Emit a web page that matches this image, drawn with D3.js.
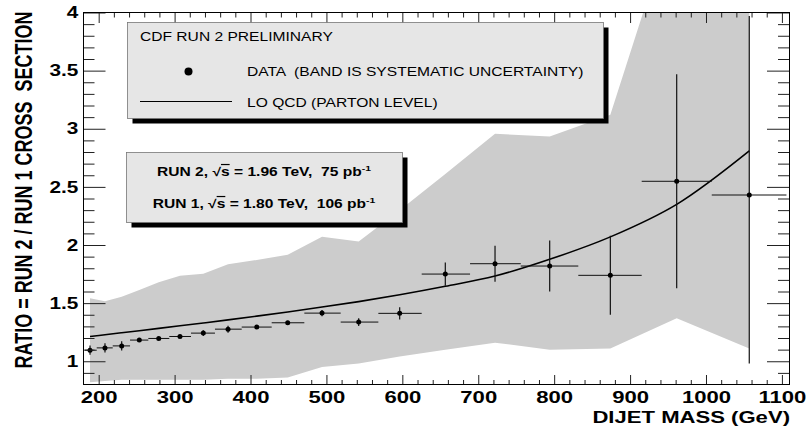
<!DOCTYPE html>
<html>
<head>
<meta charset="utf-8">
<script src="https://cdn.jsdelivr.net/npm/d3@7"></script>
<style>
  html, body { margin: 0; padding: 0; background: #fff; }
  svg { display: block; font-family: "Liberation Sans", Arial, Helvetica, sans-serif; }
  svg text { white-space: pre; }
</style>
</head>
<body>
<div id="chart"></div>
<script>
// dijet mass of each point (GeV) and bin edges
const mass = [188.6, 208.3, 230.3, 253.5, 279.1, 307.1, 337.8, 370.4, 408.2, 449.0,
  494.2, 542.5, 596.5, 656.6, 722.1, 794.1, 874.0, 961.4, 1057.0]
const binEdges = [182, 197.4, 218.5, 241.3, 265.4, 293, 321.6, 353.2, 388.4, 427.9,
  470.9, 518.8, 568.4, 625.5, 689.2, 756, 831.8, 915.3, 1007.6, 1106]
// measured ratio run2/run1 and its statistical error
const ratio = [1.095, 1.115, 1.132, 1.182, 1.196, 1.213, 1.242, 1.276, 1.294, 1.331,
  1.414, 1.337, 1.412, 1.75, 1.839, 1.819, 1.739, 2.548, 2.43]
const errLow = [0.04, 0.04, 0.04, 0.012, 0.012, 0.012, 0.025, 0.03, 0.012, 0.012,
  0.027, 0.033, 0.052, 0.1, 0.155, 0.22, 0.34, 0.92, 1.45]
const errHigh = [0.04, 0.04, 0.04, 0.012, 0.012, 0.012, 0.025, 0.03, 0.012, 0.012,
  0.027, 0.033, 0.052, 0.1, 0.155, 0.22, 0.34, 0.92, 1.54]
// systematic band
const bandLow = [0.82, 0.83, 0.84, 0.84, 0.84, 0.84, 0.84, 0.85, 0.85, 0.86,
  0.95, 0.98, 1.04, 1.10, 1.16, 1.10, 1.11, 1.37, 1.11]
const bandHigh = [1.541, 1.517, 1.555, 1.612, 1.679, 1.735, 1.753, 1.834, 1.871, 1.916,
  2.07, 2.03, 2.30, 2.61, 2.956, 2.933, 3.12, 4.9, 5.0]
// LO QCD prediction
const theory = [1.213, 1.228, 1.245, 1.263, 1.283, 1.305, 1.329, 1.356, 1.388, 1.424,
  1.466, 1.513, 1.572, 1.645, 1.733, 1.877, 2.07, 2.35, 2.81]

const xMajor = d3.range(200, 1101, 100)
const xMinor = d3.range(200, 1101, 20).filter(v => v % 100 !== 0)
const yMajor = [1, 1.5, 2, 2.5, 3, 3.5, 4]
const yMinor = d3.range(9, 40).map(v => v / 10).filter(v => (v * 10) % 5 !== 0)

const width = 809, height = 427
const x = d3.scaleLinear().domain([180, 1110]).range([83.5, 789.5])
const y = d3.scaleLinear().domain([0.8, 4]).range([384.5, 12.5])
const sx = 1.3 // picture is stretched sideways, text too
const font = '"Liberation Sans", Arial, Helvetica, sans-serif'
const I = d3.range(mass.length)

const svg = d3.select("#chart").append("svg")
  .attr("width", width).attr("height", height)
  .attr("viewBox", [0, 0, width, height])

svg.append("clipPath").attr("id", "frame").append("rect")
  .attr("x", x.range()[0]).attr("y", y.range()[1])
  .attr("width", x.range()[1] - x.range()[0])
  .attr("height", y.range()[0] - y.range()[1])

// band
svg.append("path")
  .datum(I)
  .attr("clip-path", "url(#frame)")
  .attr("fill", "#cccccc")
  .attr("d", d3.area()
    .x(i => x(mass[i]))
    .y0(i => y(bandLow[i]))
    .y1(i => y(bandHigh[i])))

// theory curve
svg.append("path")
  .datum(I)
  .attr("fill", "none")
  .attr("stroke", "#000")
  .attr("stroke-width", 1.6)
  .attr("d", d3.line().curve(d3.curveCatmullRom)
    .x(i => x(mass[i]))
    .y(i => y(theory[i])))

// data with error bars
const pts = svg.append("g").attr("clip-path", "url(#frame)")
pts.selectAll(".xerr").data(I).join("line")
  .attr("class", "xerr")
  .attr("stroke", "#111").attr("stroke-width", 1)
  .attr("x1", i => x(binEdges[i])).attr("x2", i => x(binEdges[i + 1]))
  .attr("y1", i => y(ratio[i])).attr("y2", i => y(ratio[i]))
pts.selectAll(".yerr").data(I).join("line")
  .attr("class", "yerr")
  .attr("stroke", "#111").attr("stroke-width", 1.2)
  .attr("x1", i => x(mass[i])).attr("x2", i => x(mass[i]))
  .attr("y1", i => y(ratio[i] - errLow[i])).attr("y2", i => y(ratio[i] + errHigh[i]))
pts.selectAll("circle").data(I).join("circle")
  .attr("cx", i => x(mass[i])).attr("cy", i => y(ratio[i]))
  .attr("r", 2.5).attr("fill", "#000")

// axes
function clean(g) {
  g.select(".domain").remove()
  g.selectAll(".tick line").attr("stroke", "#222")
}
const yBot = y.range()[0], yTop = y.range()[1]
const xLeft = x.range()[0], xRight = x.range()[1]

svg.append("g").attr("transform", `translate(0,${yBot})`)
  .call(d3.axisBottom(x).tickValues(xMinor).tickSize(-4.5).tickFormat(""))
  .call(clean)
svg.append("g").attr("transform", `translate(0,${yBot})`)
  .call(d3.axisBottom(x).tickValues(xMajor).tickSize(-9.5).tickPadding(6).tickFormat(d3.format("d")))
  .call(clean)
  .call(g => g.selectAll(".tick text")
    .attr("transform", `scale(${sx},1)`)
    .attr("font-size", 17).attr("font-weight", "bold")
    .attr("font-family", font).attr("fill", "#000"))
svg.append("g").attr("transform", `translate(0,${yTop})`)
  .call(d3.axisTop(x).tickValues(xMinor).tickSize(-5).tickFormat(""))
  .call(clean)
svg.append("g").attr("transform", `translate(0,${yTop})`)
  .call(d3.axisTop(x).tickValues(xMajor).tickSize(-10.5).tickFormat(""))
  .call(clean)

svg.append("g").attr("transform", `translate(${xLeft},0)`)
  .call(d3.axisLeft(y).tickValues(yMinor).tickSize(-11).tickFormat(""))
  .call(clean)
svg.append("g").attr("transform", `translate(${xLeft},0)`)
  .call(d3.axisLeft(y).tickValues(yMajor).tickSize(-22).tickPadding(4)
    .tickFormat(d => d3.format("~g")(d)))
  .call(clean)
  .call(g => g.selectAll(".tick text")
    .attr("transform", `scale(${sx},1)`)
    .attr("font-size", 16).attr("font-weight", "bold")
    .attr("font-family", font).attr("fill", "#000"))
svg.append("g").attr("transform", `translate(${xRight},0)`)
  .call(d3.axisRight(y).tickValues(yMinor).tickSize(-11.5).tickFormat(""))
  .call(clean)
svg.append("g").attr("transform", `translate(${xRight},0)`)
  .call(d3.axisRight(y).tickValues(yMajor).tickSize(-22.5).tickFormat(""))
  .call(clean)

// frame
svg.append("rect")
  .attr("x", xLeft).attr("y", yTop)
  .attr("width", xRight - xLeft).attr("height", yBot - yTop)
  .attr("fill", "none").attr("stroke", "#000").attr("stroke-width", 1)

// axis titles
svg.append("text")
  .attr("transform", `translate(790,423) scale(${sx},1)`)
  .attr("text-anchor", "end")
  .attr("font-size", 17).attr("font-weight", "bold")
  .text("DIJET MASS (GeV)")
svg.append("text")
  .attr("transform", `translate(24,190) scale(${sx},1) rotate(-90)`)
  .attr("text-anchor", "middle").attr("dy", "0.36em")
  .attr("font-size", 18).attr("font-weight", "bold")
  .text("RATIO = RUN 2 / RUN 1 CROSS  SECTION")

// legend box
function box(bx, by, bw, bh) {
  svg.append("rect").attr("x", bx + 5).attr("y", by + 5)
    .attr("width", bw).attr("height", bh).attr("fill", "#000")
  svg.append("rect").attr("x", bx).attr("y", by)
    .attr("width", bw).attr("height", bh)
    .attr("fill", "#e6e6e6").attr("stroke", "#777").attr("stroke-width", 0.8)
}
function label(tx, ty, str, size, weight, anchor) {
  return svg.append("text")
    .attr("transform", `translate(${tx},${ty}) scale(${sx},1)`)
    .attr("font-size", size).attr("font-weight", weight || "normal")
    .attr("text-anchor", anchor || "start")
    .text(str)
}
box(127.5, 22.5, 476, 96)
label(140, 41, "CDF RUN 2 PRELIMINARY", 12)
svg.append("circle").attr("cx", 188.5).attr("cy", 71.5).attr("r", 4).attr("fill", "#000")
label(247, 76, "DATA  (BAND IS SYSTEMATIC UNCERTAINTY)", 12)
svg.append("line").attr("x1", 140).attr("x2", 232).attr("y1", 101.5).attr("y2", 101.5)
  .attr("stroke", "#000").attr("stroke-width", 1)
label(247, 107, "LO QCD (PARTON LEVEL)", 12)

// energy box
box(126.5, 152.5, 276, 70)
const runs = [
  { run: "RUN 2, ", rest: " = 1.96 TeV,  75 pb", y: 176 },
  { run: "RUN 1, ", rest: " = 1.80 TeV,  106 pb", y: 208 }
]
runs.forEach(r => {
  const t = label(264, r.y, "", 12, "bold", "middle")
  t.append("tspan").text(r.run)
  t.append("tspan").text("\u221A")
  t.append("tspan").attr("text-decoration", "overline").text("s")
  t.append("tspan").text(r.rest)
  t.append("tspan").attr("dy", -5).attr("font-size", 8).text("-1")
})
</script>
</body>
</html>
